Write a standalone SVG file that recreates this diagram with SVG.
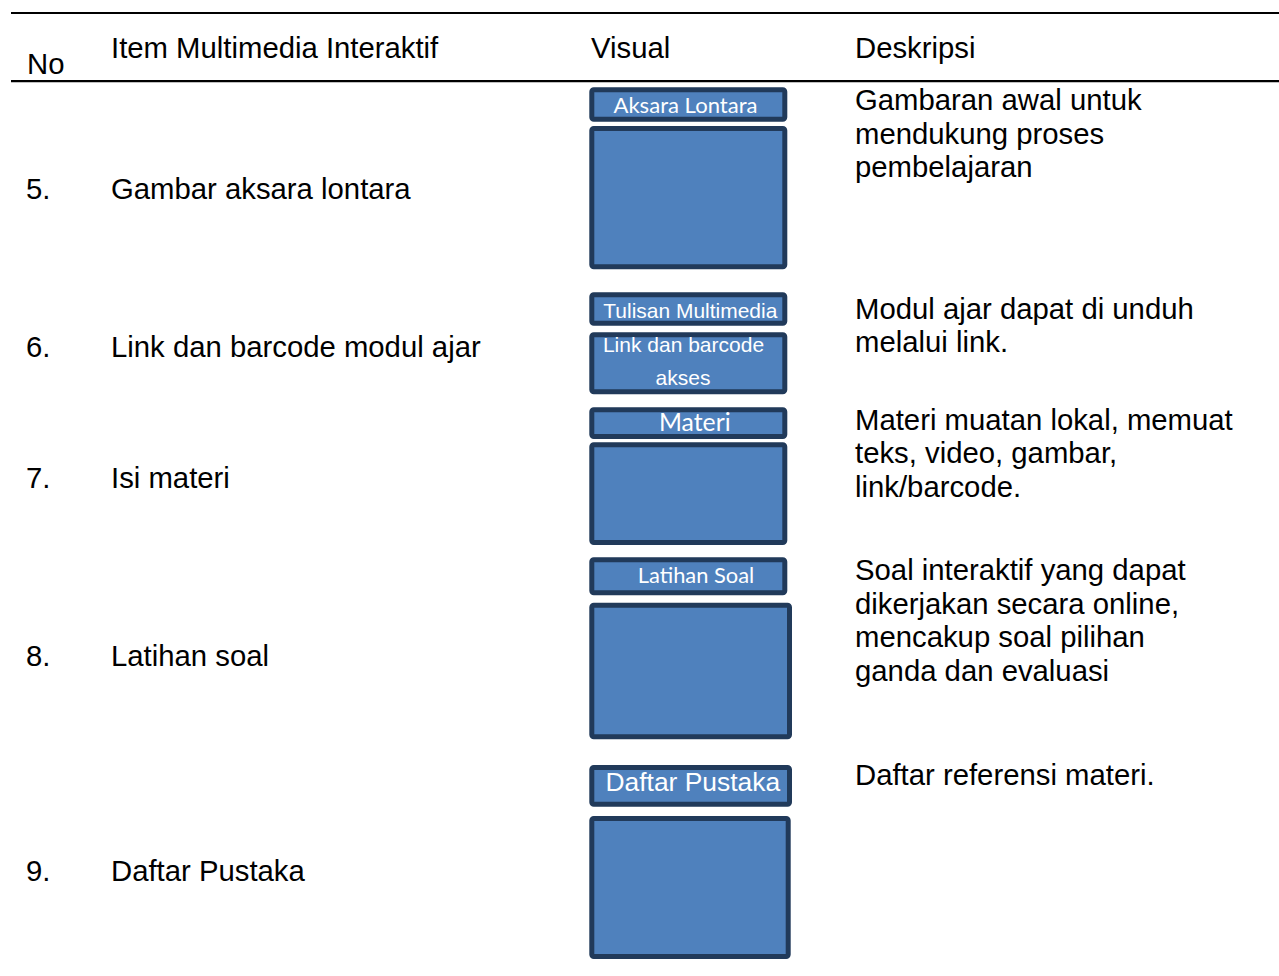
<svg xmlns="http://www.w3.org/2000/svg" width="1279" height="976" viewBox="0 0 1279 976">
<style>
.t{font-family:"Liberation Sans",Arial,sans-serif;font-size:29.3px;fill:#000}
.box{fill:#4F81BD;stroke:#213A5A;stroke-width:5}
.lc{font-family:Lato,"Open Sans",sans-serif;fill:#fff}
.la{font-family:"Liberation Sans",Arial,sans-serif;fill:#fff}
.rule{stroke:#000;stroke-width:2.2}
</style>
<rect width="1279" height="976" fill="#fff"/>
<g id="rules">
<line class="rule" x1="11" y1="13" x2="1279" y2="13"/>
<line class="rule" x1="11" y1="81.2" x2="1279" y2="81.2"/>
</g>
<g id="header">
<text class="t" x="27" y="74">No</text>
<text class="t" x="111" y="58">Item Multimedia Interaktif</text>
<text class="t" x="591" y="58">Visual</text>
<text class="t" x="855" y="58">Deskripsi</text>
</g>
<g id="row5">
<text class="t" x="26" y="198.5">5.</text>
<text class="t" x="111" y="198.5">Gambar aksara lontara</text>
<rect class="box" x="591.8" y="89.8" width="193" height="29.4" rx="2"/>
<text class="lc" x="685.5" y="113.3" font-size="22" text-anchor="middle" textLength="144" lengthAdjust="spacingAndGlyphs">Aksara Lontara</text>
<rect class="box" x="591.8" y="128.5" width="193" height="138.3" rx="2"/>
<text class="t" x="855" y="110">Gambaran awal untuk</text>
<text class="t" x="855" y="143.5">mendukung proses</text>
<text class="t" x="855" y="177">pembelajaran</text>
</g>
<g id="row6">
<text class="t" x="26" y="357">6.</text>
<text class="t" x="111" y="357">Link dan barcode modul ajar</text>
<rect class="box" x="591.8" y="294.8" width="193" height="28.4" rx="2"/>
<text class="la" x="690.3" y="318.3" font-size="21" text-anchor="middle" textLength="174" lengthAdjust="spacingAndGlyphs">Tulisan Multimedia</text>
<rect class="box" x="591.8" y="334.8" width="193" height="57" rx="2"/>
<text class="la" x="683.5" y="351.7" font-size="21" text-anchor="middle">Link dan barcode</text>
<text class="la" x="683" y="385" font-size="21" text-anchor="middle">akses</text>
<text class="t" x="855" y="318.5">Modul ajar dapat di unduh</text>
<text class="t" x="855" y="352">melalui link.</text>
</g>
<g id="row7">
<text class="t" x="26" y="488">7.</text>
<text class="t" x="111" y="488">Isi materi</text>
<rect class="box" x="591.8" y="409.8" width="193" height="26.7" rx="2"/>
<text class="lc" x="694.8" y="431" font-size="25" text-anchor="middle" textLength="71.7" lengthAdjust="spacingAndGlyphs">Materi</text>
<rect class="box" x="591.8" y="444.8" width="193" height="97.7" rx="2"/>
<text class="t" x="855" y="429.5">Materi muatan lokal, memuat</text>
<text class="t" x="855" y="463">teks, video, gambar,</text>
<text class="t" x="855" y="496.5">link/barcode.</text>
</g>
<g id="row8">
<text class="t" x="26" y="666">8.</text>
<text class="t" x="111" y="666">Latihan soal</text>
<rect class="box" x="591.8" y="559.8" width="193" height="33" rx="2"/>
<text class="lc" x="696" y="583.3" font-size="22" text-anchor="middle" textLength="116.6" lengthAdjust="spacingAndGlyphs">Latihan Soal</text>
<rect class="box" x="591.8" y="605.2" width="197.7" height="131.6" rx="2"/>
<text class="t" x="855" y="580">Soal interaktif yang dapat</text>
<text class="t" x="855" y="613.5">dikerjakan secara online,</text>
<text class="t" x="855" y="647">mencakup soal pilihan</text>
<text class="t" x="855" y="680.5">ganda dan evaluasi</text>
</g>
<g id="row9">
<text class="t" x="26" y="880.5">9.</text>
<text class="t" x="111" y="880.5">Daftar Pustaka</text>
<rect class="box" x="591.8" y="767.5" width="197.7" height="36.7" rx="2"/>
<text class="la" x="692.8" y="791" font-size="26.4" text-anchor="middle">Daftar Pustaka</text>
<rect class="box" x="591.8" y="818.5" width="196.4" height="138" rx="2"/>
<text class="t" x="855" y="784.5">Daftar referensi materi.</text>
</g>
</svg>
